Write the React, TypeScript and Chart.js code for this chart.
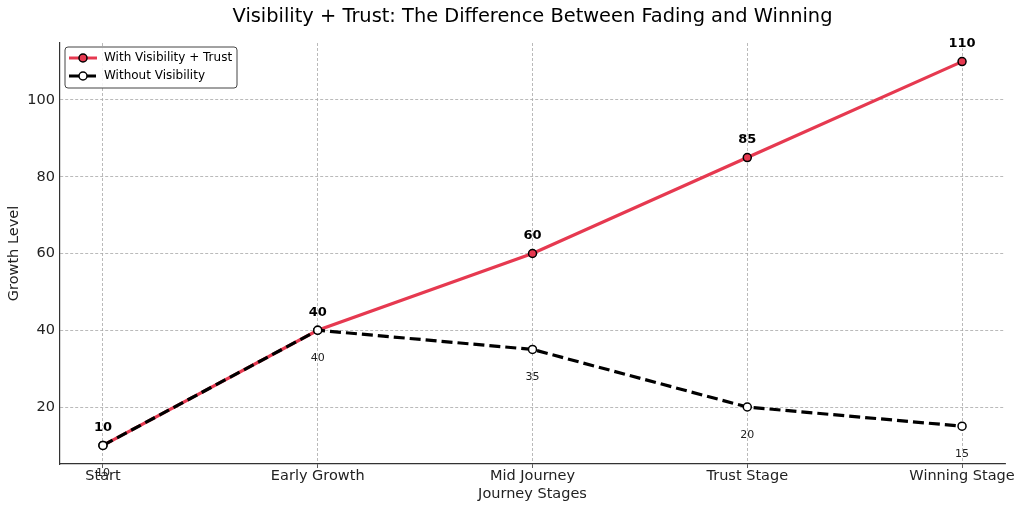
import React, { useEffect, useRef } from "react";
import { Chart, registerables } from "chart.js";

Chart.register(...registerables);

const stages = ["Start", "Early Growth", "Mid Journey", "Trust Stage", "Winning Stage"];
const withVisibility = [10, 40, 60, 85, 110];
const withoutVisibility = [10, 40, 35, 20, 15];
const yTicks = [20, 40, 60, 80, 100];
const titleText = "Visibility + Trust: The Difference Between Fading and Winning";
const seriesNames = ["With Visibility + Trust", "Without Visibility"];

const RED = "#e63950";
const FONT = "'DejaVu Sans', sans-serif";

const overlayPlugin = {
  id: "overlay",
  afterDatasetsDraw(chart: any) {
    const ctx = chart.ctx;
    const area = chart.chartArea;
    ctx.save();
    // title
    ctx.fillStyle = "#000";
    ctx.font = `19.4px ${FONT}`;
    ctx.textAlign = "center";
    ctx.textBaseline = "middle";
    ctx.fillText(titleText, (area.left + area.right) / 2, 17);

    // value labels
    const m0 = chart.getDatasetMeta(0);
    const m1 = chart.getDatasetMeta(1);
    ctx.font = `bold 13px ${FONT}`;
    ctx.fillStyle = "#000";
    m0.data.forEach((pt: any, i: number) => {
      ctx.fillText(String(withVisibility[i]), pt.x, pt.y - 18);
    });
    ctx.font = `11px ${FONT}`;
    ctx.fillStyle = "#222";
    m1.data.forEach((pt: any, i: number) => {
      ctx.fillText(String(withoutVisibility[i]), pt.x, pt.y + 28);
    });

    // legend
    const lx = area.left + 5;
    const ly = area.top + 4;
    const lw = 172;
    const lh = 41;
    ctx.fillStyle = "rgba(255,255,255,0.85)";
    ctx.strokeStyle = "#444";
    ctx.lineWidth = 1;
    ctx.beginPath();
    const r = 3;
    ctx.moveTo(lx + r, ly);
    ctx.lineTo(lx + lw - r, ly);
    ctx.quadraticCurveTo(lx + lw, ly, lx + lw, ly + r);
    ctx.lineTo(lx + lw, ly + lh - r);
    ctx.quadraticCurveTo(lx + lw, ly + lh, lx + lw - r, ly + lh);
    ctx.lineTo(lx + r, ly + lh);
    ctx.quadraticCurveTo(lx, ly + lh, lx, ly + lh - r);
    ctx.lineTo(lx, ly + r);
    ctx.quadraticCurveTo(lx, ly, lx + r, ly);
    ctx.closePath();
    ctx.fill();
    ctx.stroke();

    const rows = [ly + 11, ly + 29];
    // red sample
    ctx.lineWidth = 3;
    ctx.strokeStyle = RED;
    ctx.setLineDash([]);
    ctx.beginPath();
    ctx.moveTo(lx + 4, rows[0]);
    ctx.lineTo(lx + 32, rows[0]);
    ctx.stroke();
    ctx.beginPath();
    ctx.arc(lx + 18, rows[0], 4, 0, Math.PI * 2);
    ctx.fillStyle = RED;
    ctx.fill();
    ctx.lineWidth = 1.5;
    ctx.strokeStyle = "#000";
    ctx.stroke();
    // black sample
    ctx.lineWidth = 3;
    ctx.strokeStyle = "#000";
    ctx.setLineDash([11, 5]);
    ctx.beginPath();
    ctx.moveTo(lx + 4, rows[1]);
    ctx.lineTo(lx + 32, rows[1]);
    ctx.stroke();
    ctx.setLineDash([]);
    ctx.beginPath();
    ctx.arc(lx + 18, rows[1], 4, 0, Math.PI * 2);
    ctx.fillStyle = "#fff";
    ctx.fill();
    ctx.lineWidth = 1.5;
    ctx.stroke();

    ctx.fillStyle = "#000";
    ctx.font = `12px ${FONT}`;
    ctx.textAlign = "left";
    ctx.fillText(seriesNames[0], lx + 39, rows[0]);
    ctx.fillText(seriesNames[1], lx + 39, rows[1]);
    ctx.restore();
  },
};

export default function App() {
  const ref = useRef<HTMLCanvasElement>(null);
  useEffect(() => {
    document.body.style.margin = "0";
    const chart = new Chart(ref.current!, {
      type: "line",
      data: {
        datasets: [
          {
            label: seriesNames[0],
            data: withVisibility.map((v, i) => ({ x: i, y: v })),
            borderColor: RED,
            borderWidth: 3.2,
            backgroundColor: RED,
            pointBackgroundColor: RED,
            pointBorderColor: "#000",
            pointBorderWidth: 1.5,
            pointRadius: 4,
            tension: 0,
            order: 2,
          },
          {
            label: seriesNames[1],
            data: withoutVisibility.map((v, i) => ({ x: i, y: v })),
            borderColor: "#000",
            borderWidth: 3.2,
            borderDash: [11, 5],
            backgroundColor: "#fff",
            pointBackgroundColor: "#fff",
            pointBorderColor: "#000",
            pointBorderWidth: 1.5,
            pointRadius: 4,
            tension: 0,
            order: 1,
          },
        ],
      },
      options: {
        responsive: false,
        animation: false,
        devicePixelRatio: 1,
        layout: { padding: { top: 43, right: 19, left: 0, bottom: 0 } },
        plugins: {
          legend: { display: false },
          title: { display: false },
          tooltip: { enabled: false },
        },
        scales: {
          x: {
            type: "linear",
            min: -0.2,
            max: 4.2,
            afterBuildTicks: (s: any) => {
              s.ticks = stages.map((_, i) => ({ value: i }));
            },
            afterFit: (s: any) => {
              s.height = 47;
            },
            ticks: {
              callback: (v: any) => stages[v as number] ?? "",
              color: "#222",
              font: { family: FONT, size: 14.5 },
              padding: 0,
              maxRotation: 0,
              autoSkip: false,
            },
            grid: {
              color: "#a8a8a8",
              lineWidth: 0.8,
              drawTicks: true,
              tickLength: 4,
              tickColor: "#333",
            } as any,
            border: { display: true, color: "#333", width: 1.2, dash: [3, 2] },
            title: {
              display: true,
              text: "Journey Stages",
              color: "#222",
              font: { family: FONT, size: 14.5 },
              padding: { top: 0, bottom: 8 },
            },
          },
          y: {
            min: 5.15,
            max: 114.85,
            afterBuildTicks: (s: any) => {
              s.ticks = yTicks.map((v) => ({ value: v }));
            },
            afterFit: (s: any) => {
              s.width = 60;
            },
            ticks: {
              color: "#222",
              font: { family: FONT, size: 14.5 },
              padding: 5,
            },
            grid: {
              color: "#a8a8a8",
              lineWidth: 0.8,
              drawTicks: false,
            },
            border: { display: true, color: "#333", width: 1.2, dash: [3, 2] },
            title: {
              display: true,
              text: "Growth Level",
              color: "#222",
              font: { family: FONT, size: 14.5 },
              padding: { top: 6, bottom: 0 },
            },
          },
        },
      },
      plugins: [overlayPlugin],
    } as any);
    return () => chart.destroy();
  }, []);
  return (
    <div style={{ position: "absolute", left: 0, top: 0, width: 1024, height: 511, background: "#fff" }}>
      <canvas ref={ref} width={1024} height={511} />
    </div>
  );
}
